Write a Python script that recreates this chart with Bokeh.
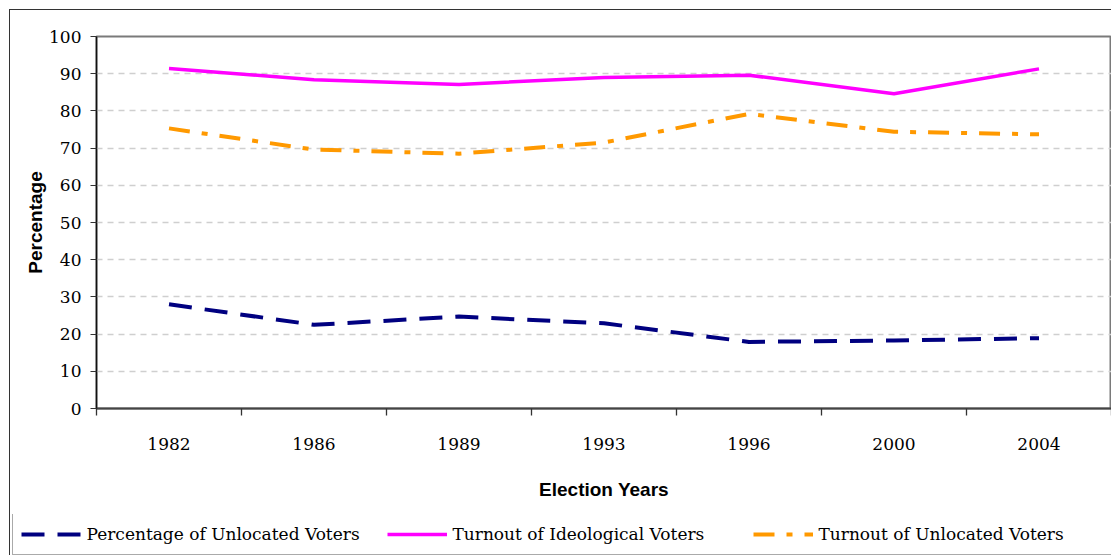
from bokeh.plotting import figure
from bokeh.layouts import column
from bokeh.models import (Legend, LegendItem, FixedTicker, SingleIntervalTicker,
                          Range1d)
from bokeh.embed import file_html
from bokeh.resources import INLINE

# Election years and the three series (percent)
years = [1982, 1986, 1989, 1993, 1996, 2000, 2004]
unlocated_share = [28.0, 22.5, 24.7, 22.9, 17.9, 18.3, 18.9]
ideological_turnout = [91.4, 88.4, 87.1, 89.0, 89.6, 84.6, 91.3]
unlocated_turnout = [75.3, 69.6, 68.5, 71.5, 79.2, 74.4, 73.7]

series_names = ["Percentage of Unlocated Voters",
                "Turnout of Ideological Voters",
                "Turnout of Unlocated Voters"]
series = [unlocated_share, ideological_turnout, unlocated_turnout]

# line styles shared by the chart and its legend strip
styles = [
    dict(line_color="#000080", line_width=4, line_dash="23 13"),
    dict(line_color="#ff00ff", line_width=3.5),
    dict(line_color="#ff9900", line_width=4, line_dash="21 12 6 12"),
]

SERIF = "DejaVu Serif"
SANS = "Liberation Sans"
W = 1101

xs = list(range(len(years)))

p = figure(width=W, height=504, output_backend="svg", toolbar_location=None,
           x_range=Range1d(-0.5, len(years) - 0.5), y_range=Range1d(0, 100),
           min_border_left=86, min_border_top=26, min_border_bottom=106,
           min_border_right=0)
p.frame_align = False
p.background_fill_color = "white"
p.border_fill_color = "white"
p.outline_line_color = "#7a7a7a"
p.outline_line_width = 2

# horizontal dashed gridlines only
p.xgrid.grid_line_color = None
p.ygrid.grid_line_color = "#cfcfcf"
p.ygrid.grid_line_dash = "6 5"
p.ygrid.grid_line_width = 1.3

# y axis
p.yaxis.ticker = SingleIntervalTicker(interval=10)
p.yaxis.minor_tick_line_color = None
p.yaxis.major_tick_in = 0
p.yaxis.major_tick_out = 6
p.yaxis.axis_line_color = "#111111"
p.yaxis.axis_line_width = 1.5
p.yaxis.major_tick_line_color = "#333333"
p.yaxis.major_label_text_font = SERIF
p.yaxis.major_label_text_font_size = "17px"
p.yaxis.major_label_text_color = "black"
p.yaxis.major_label_standoff = 9
p.yaxis.axis_label = "Percentage"
p.yaxis.axis_label_text_font = SANS
p.yaxis.axis_label_text_font_style = "bold"
p.yaxis.axis_label_text_font_size = "19px"
p.yaxis.axis_label_text_color = "black"
p.yaxis.axis_label_standoff = 0

# x axis: year labels at category centres, tick marks between categories
p.xaxis.ticker = FixedTicker(ticks=xs,
                             minor_ticks=[i - 0.5 for i in range(len(years) + 1)])
p.xaxis.major_label_overrides = {i: str(y) for i, y in zip(xs, years)}
p.xaxis.major_tick_in = 0
p.xaxis.major_tick_out = 0
p.xaxis.minor_tick_in = 0
p.xaxis.minor_tick_out = 7
p.xaxis.minor_tick_line_color = "#333333"
p.xaxis.minor_tick_line_width = 1.3
p.xaxis.axis_line_color = "#444444"
p.xaxis.axis_line_width = 2
p.xaxis.major_label_text_font = SERIF
p.xaxis.major_label_text_font_size = "17px"
p.xaxis.major_label_text_color = "black"
p.xaxis.major_label_standoff = 22
p.xaxis.axis_label = "Election Years"
p.xaxis.axis_label_text_font = SANS
p.xaxis.axis_label_text_font_style = "bold"
p.xaxis.axis_label_text_font_size = "19px"
p.xaxis.axis_label_text_color = "black"
p.xaxis.axis_label_standoff = 26

for ys, st in zip(series, styles):
    p.line(xs, ys, **st)

# legend strip below the chart; its own copies of the series sit outside
# its (empty) view and only supply the legend keys
lp = figure(width=W, height=41, output_backend="svg", toolbar_location=None,
            x_range=Range1d(-0.5, len(years) - 0.5), y_range=Range1d(-2, -1),
            x_axis_type=None, y_axis_type=None,
            min_border_left=0, min_border_right=0, min_border_top=0,
            min_border_bottom=0)
lp.frame_align = False
lp.grid.grid_line_color = None
lp.outline_line_color = None
lp.background_fill_color = "white"
lp.border_fill_color = "white"
keys = [lp.line(xs, ys, **st) for ys, st in zip(series, styles)]

legend = Legend(items=[LegendItem(label=n, renderers=[r])
                       for n, r in zip(series_names, keys)],
                orientation="horizontal", location=(1.5, 0.5),
                padding=8, spacing=10, margin=0,
                glyph_width=60, glyph_height=24, label_height=24,
                label_width=290, label_standoff=6,
                label_text_font=SERIF, label_text_font_size="17px",
                label_text_color="black",
                border_line_color="#555555", border_line_width=1.5,
                background_fill_color="white", background_fill_alpha=1)
lp.add_layout(legend)

layout = column(p, lp, spacing=0,
                styles={"margin-left": "9px", "margin-top": "9px",
                        "border-left": "1.5px solid #333333",
                        "border-top": "1.5px solid #333333"})

open("out.html", "w").write(file_html(layout, INLINE))
